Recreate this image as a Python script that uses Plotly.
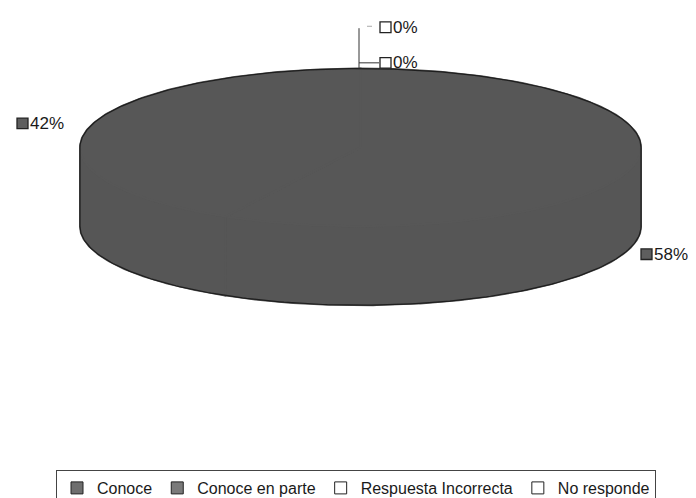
import numpy as np
import plotly.graph_objects as go

categories = ["Conoce", "Conoce en parte", "Respuesta Incorrecta", "No responde"]
values = [58, 42, 0, 0]
label_texts = ["58%", "42%", "0%", "0%"]

top_colors = ["#575757", "#575757", "#ffffff", "#ffffff"]
side_colors = ["#565656", "#565656", "#ffffff", "#ffffff"]
legend_colors = ["#6e6e6e", "#7a7a7a", "#ffffff", "#ffffff"]

W, H = 696, 498
cx, cy, a, b, depth = 352.5, 145, 280.5, 82, 82

fig = go.Figure()

total = sum(values)
start = 90.0
slices = []
for v in values:
    sweep = 360.0 * v / total
    slices.append((start - sweep, start))
    start -= sweep


def arc(t1, t2, n=160):
    t = np.radians(np.linspace(t1, t2, n))
    return cx + a * np.cos(t), cy - b * np.sin(t)


# side walls (front half only)
for (t_end, t_start), col in zip(slices, side_colors):
    if t_start - t_end <= 0:
        continue
    for k in (-1, 0, 1):
        lo = max(t_end, -180 + 360 * k)
        hi = min(t_start, 0 + 360 * k)
        if hi > lo:
            x, y = arc(lo, hi)
            xs = np.concatenate([x, x[::-1], x[:1]])
            ys = np.concatenate([y, (y + depth)[::-1], y[:1]])
            fig.add_trace(go.Scatter(x=xs, y=ys, mode="lines", fill="toself",
                                     fillcolor=col, line=dict(color=col, width=2),
                                     hoverinfo="skip", showlegend=False))

# top face wedges
for (t_end, t_start), col in zip(slices, top_colors):
    if t_start - t_end <= 0:
        continue
    x, y = arc(t_end, t_start)
    xs = np.concatenate([[cx], x, [cx]])
    ys = np.concatenate([[cy], y, [cy]])
    fig.add_trace(go.Scatter(x=xs, y=ys, mode="lines", fill="toself",
                             fillcolor=col, line=dict(color=col, width=2),
                             hoverinfo="skip", showlegend=False))

# outer outline of the 3D pie
xo_top, yo_top = arc(0, 180, 200)
xo_bot, yo_bot = arc(180, 360, 200)
xs = np.concatenate([xo_top, xo_bot, [xo_top[0]]])
ys = np.concatenate([yo_top, yo_bot + depth, [yo_top[0]]])
fig.add_trace(go.Scatter(x=xs, y=ys, mode="lines", line=dict(color="#1e1e1e", width=1.2),
                         hoverinfo="skip", showlegend=False))

# legend entries
for name, col in zip(categories, legend_colors):
    fig.add_trace(go.Scatter(x=[None], y=[None], mode="markers", name=name,
                             marker=dict(symbol="square", size=12, color=col,
                                         line=dict(color="#222", width=1))))

font = dict(family="Liberation Sans, Arial, sans-serif", size=17, color="#1a1a1a")
# (x of square left edge, y center, text, square colour)
labels = [
    (633, 256, label_texts[0], "#5e5e5e"),
    (9, 120, label_texts[1], "#5e5e5e"),
    (372, 20, label_texts[2], "#ffffff"),
    (372, 57, label_texts[3], "#ffffff"),
]
sq = 11
for x, y, t, c in labels:
    fig.add_shape(type="rect", x0=x, x1=x + sq, y0=y - sq / 2, y1=y + sq / 2,
                  xref="x", yref="y", fillcolor=c, line=dict(color="#222", width=1.3))
    fig.add_annotation(x=x + sq + 1, y=y, xref="x", yref="y", text=t, showarrow=False,
                       font=font, xanchor="left", yanchor="middle", borderpad=0)

# leader lines for 0% labels
fig.add_shape(type="line", x0=351, x1=351, y0=21, y1=63, xref="x", yref="y",
              line=dict(color="#333", width=1))
fig.add_shape(type="line", x0=351, x1=371, y0=57, y1=57, xref="x", yref="y",
              line=dict(color="#333", width=1))
fig.add_shape(type="line", x0=359, x1=364, y0=19, y1=19, xref="x", yref="y",
              line=dict(color="#aaa", width=1))

fig.update_layout(
    width=W, height=H,
    margin=dict(l=0, r=0, t=0, b=0),
    paper_bgcolor="#ffffff", plot_bgcolor="#ffffff",
    xaxis=dict(range=[0, W], visible=False, fixedrange=True),
    yaxis=dict(range=[H, 0], visible=False, fixedrange=True),
    showlegend=True,
    legend=dict(orientation="h", x=0.5, xanchor="center", y=0.035, yanchor="top",
                bordercolor="#444", borderwidth=1, bgcolor="#ffffff",
                font=dict(family="Liberation Sans, Arial, sans-serif", size=16, color="#1a1a1a"),
                itemwidth=30, tracegroupgap=0),
)

fig.write_html("out.html")
